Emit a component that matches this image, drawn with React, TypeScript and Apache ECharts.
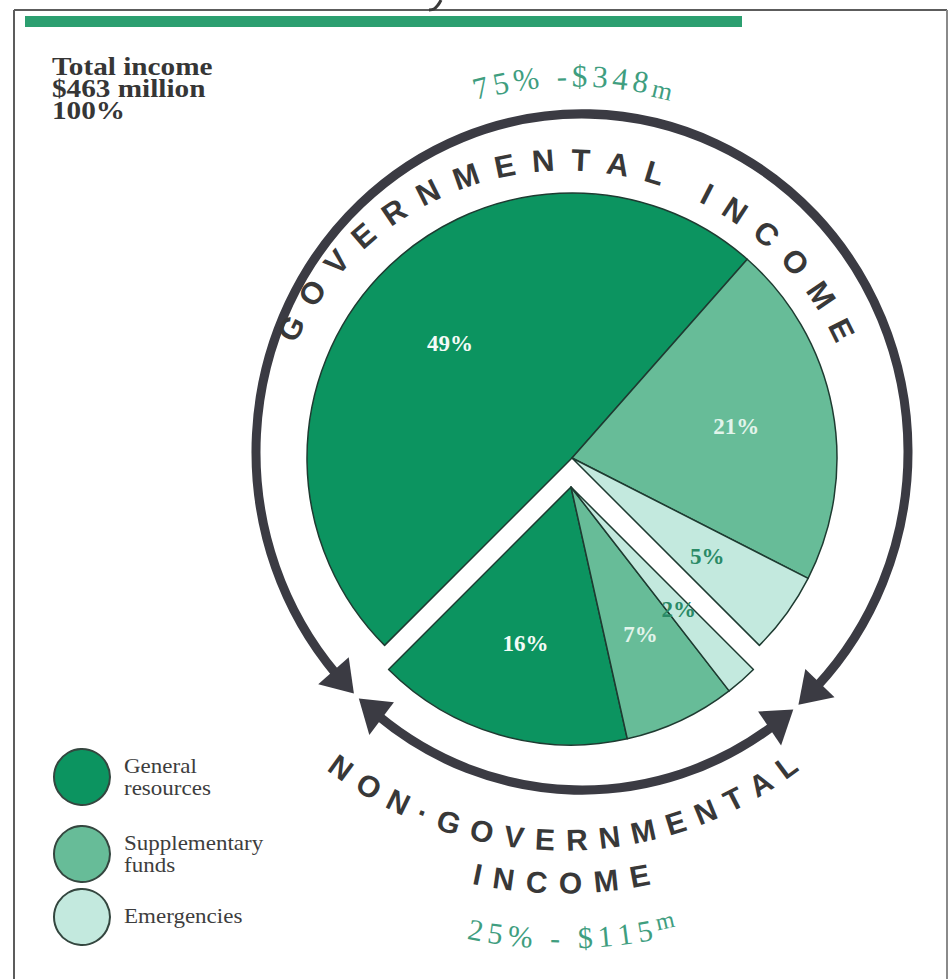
import React, { useEffect, useRef } from 'react';
import * as echarts from 'echarts';

// ---------------- data ----------------
const categories = ['General resources', 'Supplementary funds', 'Emergencies'];
const legendLabels = ['General\nresources', 'Supplementary\nfunds', 'Emergencies'];
const governmentalShare = [49, 21, 5];
const nonGovernmentalShare = [16, 7, 2];
const totalIncomeMillions = 463;
const governmentalMillions = 348;
const nonGovernmentalMillions = 115;
const groupTitles = ['GOVERNMENTAL INCOME', 'NON·GOVERNMENTAL', 'INCOME'];

// ---------------- styles ----------------
const sliceColors = ['#0c9460', '#67bc98', '#c3e9de'];
const labelColors = ['#f4fbf7', '#e2f4eb', '#2a8a66'];
const ringColor = '#3b3b43';
const accentGreen = '#3f9e7f';
const darkText = '#383838';
const SERIF = '"Liberation Serif", "DejaVu Serif", serif';
const SANS = '"Liberation Sans", Arial, sans-serif';

const DEG_PER_PCT = 3.6;
const START = 225; // compass degrees (clockwise from 12 o'clock) of the split, lower-left

const sum = (a: number[]) => a.reduce((s, v) => s + v, 0);

let measureCtx: CanvasRenderingContext2D | null = null;
function charWidth(ch: string, font: string) {
  if (!measureCtx) measureCtx = document.createElement('canvas').getContext('2d');
  measureCtx!.font = font;
  return measureCtx!.measureText(ch).width;
}

type Ch = { ch: string; size: number; dr?: number };
function arcText(
  chars: Ch[],
  o: { cx: number; cy: number; r: number; centerDeg: number; spacing: number; family: string; weight: string; color: string; side: 'top' | 'bottom' }
) {
  const widths = chars.map((c) => charWidth(c.ch, `${o.weight} ${c.size}px ${o.family}`));
  const total = sum(widths) + o.spacing * (chars.length - 1);
  let acc = -total / 2;
  const out: any[] = [];
  chars.forEach((c, i) => {
    const mid = acc + widths[i] / 2;
    acc += widths[i] + o.spacing;
    if (c.ch === ' ') return;
    const a = (o.centerDeg * Math.PI) / 180 + mid / o.r;
    const rr = o.r + (c.dr || 0);
    let x: number, y: number, rot: number;
    if (o.side === 'top') {
      x = o.cx + rr * Math.sin(a);
      y = o.cy - rr * Math.cos(a);
      rot = -a;
    } else {
      x = o.cx + rr * Math.sin(a);
      y = o.cy + rr * Math.cos(a);
      rot = a;
    }
    out.push({
      type: 'text',
      x,
      y,
      rotation: rot,
      silent: true,
      style: {
        text: c.ch,
        fontSize: c.size,
        fontFamily: o.family,
        fontWeight: o.weight,
        fill: o.color,
        align: 'center',
        verticalAlign: 'middle',
        textAlign: 'center',
        textVerticalAlign: 'middle',
      },
    });
  });
  return out;
}

const toChars = (s: string, size: number, small?: { ch: string; size: number; dr: number }) =>
  s.split('').map((ch) => (small && ch === small.ch ? { ch, size: small.size, dr: small.dr } : { ch, size }));

function labelOffsets(values: number[], start: number, dir: number, R: number) {
  let cum = 0;
  return values.map((v) => {
    const beta = ((start + dir * (cum + v / 2) * DEG_PER_PCT) * Math.PI) / 180;
    cum += v;
    const k = 0.12 * R;
    return [k * Math.sin(beta), -k * Math.cos(beta)];
  });
}

// ring (slightly elliptical, as printed)
const RING = { cx: 582, cy: 452, rx: 326, ry: 338 };
const HEAD_LEN = 30;
const HEAD_HALF = 20;
function arrowHead(tipDeg: number, baseDeg: number) {
  const r = RING.rx;
  const t = (tipDeg * Math.PI) / 180;
  const b = (baseDeg * Math.PI) / 180;
  const tip = [r * Math.cos(t), r * Math.sin(t)];
  const bx = r * Math.cos(b);
  const by = r * Math.sin(b);
  const ux = Math.cos(b);
  const uy = Math.sin(b);
  return {
    type: 'polygon',
    silent: true,
    shape: { points: [tip, [bx + ux * HEAD_HALF, by + uy * HEAD_HALF], [bx - ux * HEAD_HALF, by - uy * HEAD_HALF]] },
    style: { fill: ringColor },
  };
}
function ringArc(fromDeg: number, toDeg: number) {
  return {
    type: 'arc',
    silent: true,
    shape: { cx: 0, cy: 0, r: RING.rx, startAngle: (fromDeg * Math.PI) / 180, endAngle: (toDeg * Math.PI) / 180, clockwise: true },
    style: { stroke: ringColor, lineWidth: 9, fill: 'none' },
  };
}

function buildOption() {
  const govSum = sum(governmentalShare);
  const ngSum = sum(nonGovernmentalShare);
  const govCenter = [572, 458];
  const govR = 265;
  const ngCenter = [571, 487];
  const ngR = 258;
  const govOff = labelOffsets(governmentalShare, START, 1, govR);
  const ngOff = labelOffsets(nonGovernmentalShare, START, -1, ngR);

  const mkData = (vals: number[], offs: number[][]) =>
    categories.map((name, i) => ({
      name,
      value: vals[i],
      itemStyle: { color: sliceColors[i] },
      label: { color: labelColors[i], offset: offs[i] },
    }));

  const commonPie = {
    type: 'pie',
    silent: true,
    avoidLabelOverlap: false,
    emphasis: { disabled: true },
    labelLine: { show: false },
    itemStyle: { borderColor: '#1e3b31', borderWidth: 1.5 },
    label: {
      show: true,
      position: 'inside',
      formatter: '{c}%',
      fontFamily: SERIF,
      fontWeight: 'bold',
      fontSize: 23,
    },
  };

  const headDeg = (HEAD_LEN / RING.rx) * (180 / Math.PI);
  const govTipL = 134.4;
  const govTipR = 408.4;
  const ngTipR = 49.6;
  const ngTipL = 133.2;

  const legendY = [777, 854, 917];

  const elements: any[] = [
    // frame
    { type: 'line', silent: true, shape: { x1: 14, y1: 10, x2: 947, y2: 10 }, style: { stroke: '#5c5c5c', lineWidth: 2 } },
    { type: 'line', silent: true, shape: { x1: 14, y1: 10, x2: 14, y2: 979 }, style: { stroke: '#5c5c5c', lineWidth: 2 } },
    { type: 'line', silent: true, shape: { x1: 947, y1: 10, x2: 947, y2: 979 }, style: { stroke: '#8a8a8a', lineWidth: 2 } },
    // green rule
    { type: 'rect', silent: true, shape: { x: 25, y: 16, width: 717, height: 11 }, style: { fill: '#2c9f70' } },
    // tail of the cropped heading glyph above the frame
    {
      type: 'polyline', silent: true,
      shape: { points: [[441, 0], [438, 5], [434, 9], [429, 10]], smooth: 0.4 },
      style: { stroke: '#3a3a3a', lineWidth: 3, fill: 'none' },
    },
    // total income
    {
      type: 'text', silent: true, x: 52, y: 56, scaleX: 1.17,
      style: {
        text: `Total income\n$${totalIncomeMillions} million\n${govSum + ngSum}%`,
        fontSize: 25, lineHeight: 22, fontFamily: SERIF, fontWeight: 'bold', fill: '#363636', align: 'left', verticalAlign: 'top',
      },
    },
    // ring arrows
    {
      type: 'group', x: RING.cx, y: RING.cy, scaleY: RING.ry / RING.rx, silent: true,
      children: [
        ringArc(govTipL + headDeg - 0.8, govTipR - headDeg + 0.8),
        ringArc(ngTipR + headDeg - 0.8, ngTipL - headDeg + 0.8),
        arrowHead(govTipL, govTipL + headDeg),
        arrowHead(govTipR, govTipR - headDeg),
        arrowHead(ngTipR, ngTipR + headDeg),
        arrowHead(ngTipL, ngTipL - headDeg),
      ],
    },
    // curved titles
    ...arcText(toChars(groupTitles[0], 31), { cx: 566, cy: 468, r: 308, centerDeg: 0, spacing: 17, family: SANS, weight: 'bold', color: darkText, side: 'top' }),
    ...arcText(toChars(groupTitles[1], 30), { cx: 563, cy: 463, r: 377, centerDeg: 0, spacing: 11, family: SANS, weight: 'bold', color: darkText, side: 'bottom' }),
    ...arcText(toChars(groupTitles[2], 30), { cx: 563, cy: 463, r: 420, centerDeg: -0.2, spacing: 11.4, family: SANS, weight: 'bold', color: darkText, side: 'bottom' }),
    ...arcText(toChars(`${govSum}% -$${governmentalMillions}m`, 31, { ch: 'm', size: 26, dr: -4 }), {
      cx: 575, cy: 456, r: 380, centerDeg: -0.3, spacing: 5, family: SERIF, weight: 'normal', color: accentGreen, side: 'top',
    }),
    ...arcText(toChars(`${ngSum}% - $${nonGovernmentalMillions}m`, 30, { ch: 'm', size: 24, dr: -6 }), {
      cx: 563, cy: 463, r: 475, centerDeg: 1.1, spacing: 5, family: SERIF, weight: 'normal', color: accentGreen, side: 'bottom',
    }),
  ];

  categories.forEach((_, i) => {
    elements.push({
      type: 'circle', silent: true,
      shape: { cx: 82, cy: legendY[i], r: 28 },
      style: { fill: sliceColors[i], stroke: '#34463f', lineWidth: 2 },
    });
    elements.push({
      type: 'text', silent: true, x: 124, y: legendY[i], scaleX: 1.15,
      style: {
        text: legendLabels[i], fontSize: 20, lineHeight: 22, fontFamily: SERIF, fill: '#3d3d3d', align: 'left', verticalAlign: 'middle',
      },
    });
  });

  return {
    animation: false,
    backgroundColor: '#ffffff',
    series: [
      {
        ...commonPie,
        name: 'Governmental income',
        center: govCenter,
        radius: govR,
        startAngle: START,
        endAngle: START - govSum * DEG_PER_PCT,
        clockwise: true,
        data: mkData(governmentalShare, govOff),
      },
      {
        ...commonPie,
        name: 'Non-governmental income',
        center: ngCenter,
        radius: ngR,
        startAngle: START,
        endAngle: START + ngSum * DEG_PER_PCT,
        clockwise: false,
        data: mkData(nonGovernmentalShare, ngOff),
      },
    ],
    graphic: { elements },
  };
}

export default function App() {
  const ref = useRef<HTMLDivElement>(null);
  useEffect(() => {
    const chart = echarts.init(ref.current!, null, { renderer: 'svg' });
    chart.setOption(buildOption() as any);
    return () => chart.dispose();
  }, []);
  return (
    <div
      ref={ref}
      style={{ position: 'fixed', left: 0, top: 0, width: 952, height: 979, background: '#ffffff' }}
    />
  );
}
